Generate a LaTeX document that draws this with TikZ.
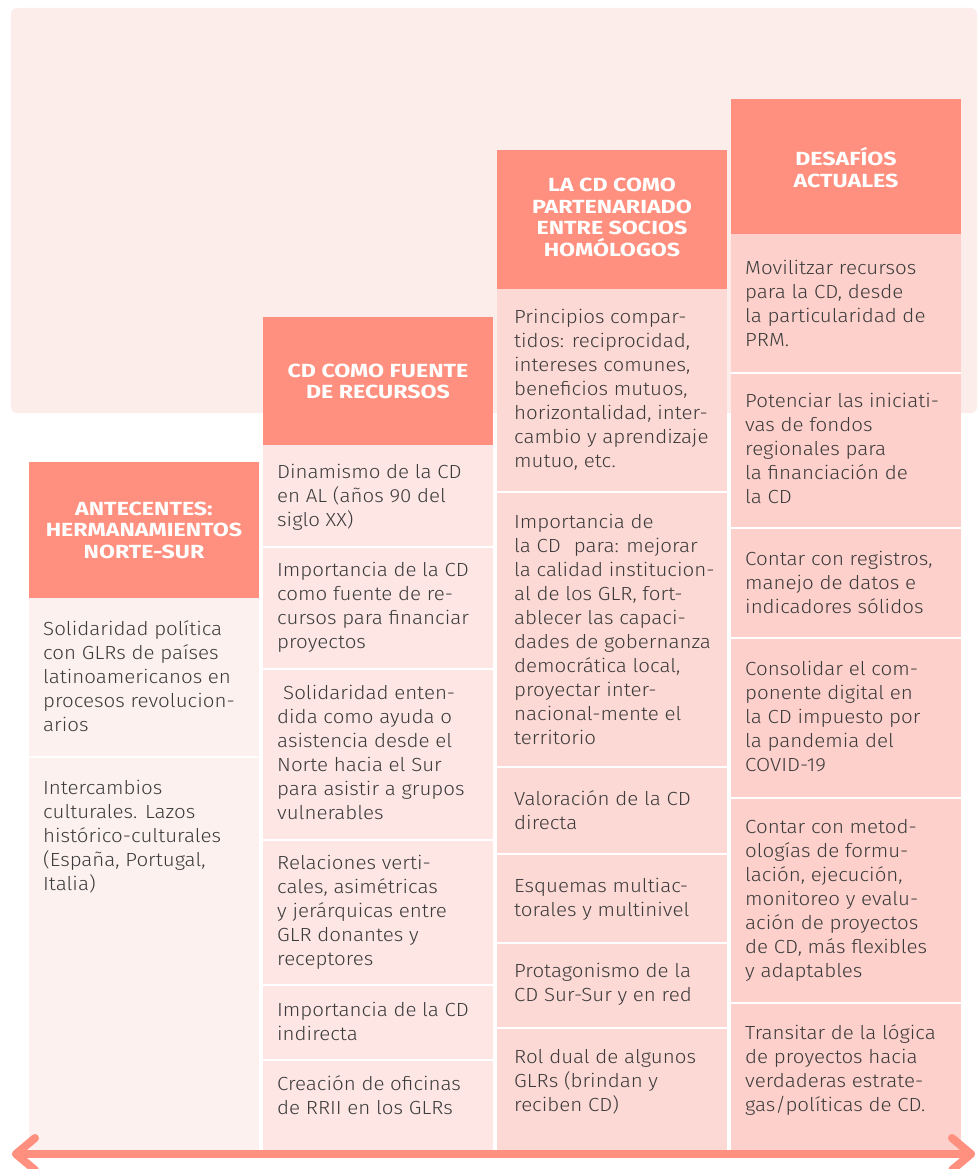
\documentclass[tikz,border=0pt]{standalone}
\usepackage{fontspec}
\setmainfont{Fira Sans Light}[FakeStretch=1.08]
\newfontfamily\hdrfont{Fira Sans Bold}[FakeStretch=1.22]
\definecolor{hdr}{HTML}{FF907F}
\definecolor{bgc}{HTML}{FDEDEA}
\definecolor{cA}{HTML}{FDF1F0}
\definecolor{cB}{HTML}{FDE6E4}
\definecolor{cC}{HTML}{FDD9D5}
\definecolor{cD}{HTML}{FDD0CB}
\definecolor{txt}{HTML}{3B3B3B}
\newcommand\ctext[4]{\node[celltext] (#1) at (#2,#3-16.8) {\strut #4};}
\begin{document}
\begin{tikzpicture}[x=1pt,y=-1pt,
  hdrtext/.style={text=white, font=\hdrfont\fontsize{19}{21.5}\selectfont, align=center, inner sep=0},
  celltext/.style={text=txt, font=\fontsize{19}{24}\selectfont, align=left, anchor=north west, inner sep=0},
  sepline/.style={white, line width=2pt},
  arrowline/.style={draw=hdr, line width=8pt, line cap=round, line join=round}]
\useasboundingbox (0,0) rectangle (977,1169);
% background panel
\fill[bgc, rounded corners=6pt] (11,8) rectangle (977,413);
% column bodies
\fill[cA] (29,598) rectangle (259,1150);
\fill[cB] (263,445) rectangle (493,1150);
\fill[cC] (497,289) rectangle (727,1150);
\fill[cD] (731,234) rectangle (961,1150);
% headers
\fill[hdr] (29,462) rectangle (259,598);
\fill[hdr] (263,317) rectangle (493,445);
\fill[hdr] (497,150) rectangle (727,289);
\fill[hdr] (731,99) rectangle (961,234);
% separators
\foreach \y in {757} \draw[sepline] (29,\y) -- (259,\y);
\foreach \y in {547,669,840,985,1060} \draw[sepline] (263,\y) -- (493,\y);
\foreach \y in {492,767,854,943,1028} \draw[sepline] (497,\y) -- (727,\y);
\foreach \y in {373,528,638,798,1003} \draw[sepline] (731,\y) -- (961,\y);
% header texts
\node[hdrtext] (h1) at (144,530) {ANTECENTES:\\HERMANAMIENTOS\\NORTE-SUR};
\node[hdrtext] (h2) at (378,381.5) {CD COMO FUENTE\\DE RECURSOS};
\node[hdrtext] (h3) at (612,217.5) {LA CD COMO\\PARTENARIADO\\ENTRE SOCIOS\\HOMÓLOGOS};
\node[hdrtext] (h4) at (846,167.5) {DESAFÍOS\\ACTUALES};
% column 1
\ctext{a1}{43}{635}{Solidaridad política\\con GLRs de países\\latinoamericanos en\\procesos revolucion-\\arios}
\ctext{a2}{43}{794}{Intercambios\\culturales. Lazos\\histórico-culturales\\(España, Portugal,\\Italia)}
% column 2
\ctext{b1}{277}{478}{Dinamismo de la CD\\en AL (años 90 del\\siglo XX)}
\ctext{b2}{277}{576}{Importancia de la CD\\como fuente de re-\\cursos para financiar\\proyectos}
\ctext{b3}{277}{699}{\hspace*{6pt}Solidaridad enten-\\dida como ayuda o\\asistencia desde el\\Norte hacia el Sur\\para asistir a grupos\\vulnerables}
\ctext{b4}{277}{869}{Relaciones verti-\\cales, asimétricas\\y jerárquicas entre\\GLR donantes y\\receptores}
\ctext{b5}{277}{1016}{Importancia de la CD\\indirecta}
\ctext{b6}{277}{1090}{Creación de oficinas\\de RRII en los GLRs}
% column 3
\ctext{c1}{514}{323}{Principios compar-\\tidos: reciprocidad,\\intereses comunes,\\beneficios mutuos,\\horizontalidad, inter-\\cambio y aprendizaje\\mutuo, etc.}
\ctext{c2}{514}{528}{Importancia de\\la CD\hspace{13pt}para: mejorar\\la calidad institucion-\\al de los GLR, fort-\\ablecer las capaci-\\dades de gobernanza\\democrática local,\\proyectar inter-\\nacional-mente el\\territorio}
\ctext{c3}{514}{805}{Valoración de la CD\\directa}
\ctext{c4}{514}{892}{Esquemas multiac-\\torales y multinivel}
\ctext{c5}{514}{977}{Protagonismo de la\\CD Sur-Sur y en red}
\ctext{c6}{514}{1063}{Rol dual de algunos\\GLRs (brindan y\\reciben CD)}
% column 4
\ctext{d1}{745}{274}{Movilitzar recursos\\para la CD, desde\\la particularidad de\\PRM.}
\ctext{d2}{745}{407}{Potenciar las iniciati-\\vas de fondos\\regionales para\\la financiación de\\la CD}
\ctext{d3}{745}{565}{Contar con registros,\\manejo de datos e\\indicadores sólidos}
\ctext{d4}{745}{675}{Consolidar el com-\\ponente digital en\\la CD impuesto por\\la pandemia del\\COVID-19}
\ctext{d5}{745}{833}{Contar con metod-\\ologías de formu-\\lación, ejecución,\\monitoreo y evalu-\\ación de proyectos\\de CD, más flexibles\\y adaptables}
\ctext{d6}{745}{1039}{Transitar de la lógica\\de proyectos hacia\\verdaderas estrate-\\gas/políticas de CD.}
% timeline arrow
\coordinate (aL) at (16,1154);
\coordinate (aR) at (971,1154);
\draw[arrowline] (aL) -- (aR);
\draw[arrowline] (aL) ++(19,-16) -- (aL) -- ++(19,16);
\draw[arrowline] (aR) ++(-19,-16) -- (aR) -- ++(-19,16);
\end{tikzpicture}
\end{document}
